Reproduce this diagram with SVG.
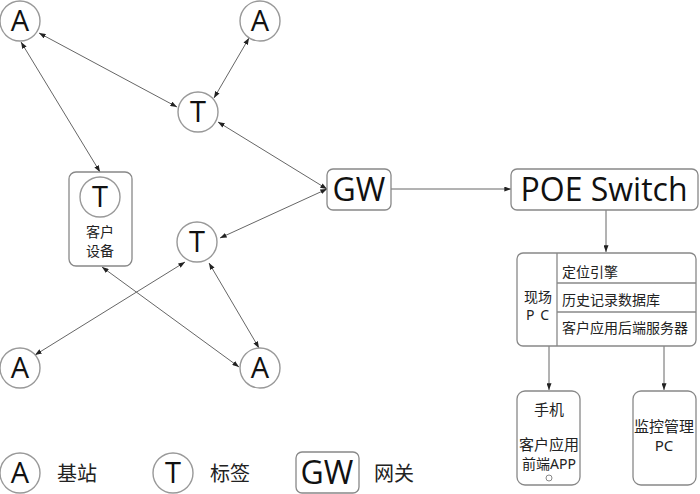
<svg xmlns="http://www.w3.org/2000/svg" width="700" height="494" viewBox="0 0 700 494">
<defs>
<marker id="ah" viewBox="0 0 8 6" refX="8" refY="3" markerWidth="7" markerHeight="5" markerUnits="userSpaceOnUse" orient="auto-start-reverse">
<path d="M0,0 L8,3 L0,6 z" fill="#222"/>
</marker>
</defs>
<style>
.c{fill:#fff;stroke:#999;stroke-width:1.4}
.b{fill:#fff;stroke:#888;stroke-width:1.3}
.l{stroke:#666;stroke-width:1;fill:none;marker-end:url(#ah)}
.l2{stroke:#666;stroke-width:1;fill:none;marker-start:url(#ah);marker-end:url(#ah)}
.big{font-family:"Open Sans","Noto Sans","Noto Sans CJK SC",sans-serif;font-size:29px;fill:#111;text-anchor:middle}
.gw{font-family:"Open Sans","Noto Sans","Noto Sans CJK SC",sans-serif;font-size:32px;fill:#111;text-anchor:middle}
.t{font-family:"Noto Sans","Noto Sans CJK SC",sans-serif;font-size:14px;fill:#222}
.tm{font-family:"Noto Sans","Noto Sans CJK SC",sans-serif;font-size:14px;fill:#222;text-anchor:middle}
.lg{font-family:"Noto Sans","Noto Sans CJK SC",sans-serif;font-size:20px;fill:#222}
</style>
<g id="connectors">
<line class="l2" x1="39" y1="33" x2="177" y2="107"/>
<line class="l2" x1="249" y1="38" x2="214" y2="98"/>
<line class="l2" x1="21" y1="42" x2="100" y2="172"/>
<line class="l2" x1="218" y1="122" x2="327" y2="189"/>
<line class="l2" x1="220" y1="238" x2="327" y2="189"/>
<line class="l2" x1="185" y1="262" x2="35" y2="355"/>
<line class="l2" x1="209" y1="263" x2="259" y2="348"/>
<line class="l2" x1="102" y1="267" x2="239" y2="367"/>
<line class="l" x1="391" y1="189" x2="511" y2="189"/>
<line class="l" x1="606" y1="210" x2="606" y2="252"/>
<line class="l" x1="549" y1="346" x2="549" y2="390"/>
<line class="l" x1="664" y1="346" x2="664" y2="390"/>
</g>
<g id="a1"><circle class="c" cx="20" cy="21" r="20"/><text class="big" x="20" y="31">A</text></g>
<g id="a2"><circle class="c" cx="260" cy="21" r="20"/><text class="big" x="260" y="31">A</text></g>
<g id="t1"><circle class="c" cx="198" cy="112" r="20"/><text class="big" x="198" y="122">T</text></g>
<g id="t2"><circle class="c" cx="197" cy="242" r="20"/><text class="big" x="197" y="252">T</text></g>
<g id="a3"><circle class="c" cx="20" cy="368" r="20"/><text class="big" x="20" y="378">A</text></g>
<g id="a4"><circle class="c" cx="260" cy="368" r="20"/><text class="big" x="260" y="378">A</text></g>
<g id="device">
<rect class="b" x="69" y="172" width="63" height="94" rx="7"/>
<circle class="c" cx="100" cy="197" r="20"/><text class="big" x="100" y="207">T</text>
<text class="tm" x="100" y="237">客户</text>
<text class="tm" x="100" y="256">设备</text>
</g>
<g id="gw"><rect class="b" x="327" y="169" width="64" height="41" rx="6"/><text class="gw" x="359" y="201">GW</text></g>
<g id="poe"><rect class="b" x="511" y="169" width="187" height="41" rx="6"/><text class="gw" x="604" y="201">POE Switch</text></g>
<g id="pc">
<rect class="b" x="517" y="253" width="179" height="93" rx="6"/>
<line x1="557" y1="253" x2="557" y2="346" stroke="#888" stroke-width="1.3"/>
<line x1="557" y1="283" x2="696" y2="283" stroke="#888" stroke-width="1.3"/>
<line x1="557" y1="312" x2="696" y2="312" stroke="#888" stroke-width="1.3"/>
<text class="tm" x="538" y="302">现场</text>
<text class="tm" x="538" y="320" style="letter-spacing:1px">P C</text>
<text class="t" x="562" y="277">定位引擎</text>
<text class="t" x="562" y="305">历史记录数据库</text>
<text class="t" x="562" y="333">客户应用后端服务器</text>
</g>
<g id="phone">
<rect class="b" x="517" y="391" width="63" height="94" rx="8"/>
<text class="tm" x="549" y="415" style="font-size:15px">手机</text>
<text class="tm" x="549" y="450" style="font-size:15px">客户应用</text>
<text class="tm" x="549" y="469" style="font-size:14px">前端APP</text>
<circle cx="549" cy="478" r="3" fill="none" stroke="#888" stroke-width="1"/>
</g>
<g id="monitor">
<rect class="b" x="633" y="391" width="63" height="94" rx="8"/>
<text class="tm" x="664" y="432" style="font-size:15px">监控管理</text>
<text class="tm" x="664" y="451" style="font-size:15px">PC</text>
</g>
<g id="legend">
<circle class="c" cx="20" cy="473" r="20"/><text class="big" x="20" y="483">A</text>
<text class="lg" x="57" y="481">基站</text>
<circle class="c" cx="173" cy="473" r="20"/><text class="big" x="173" y="483">T</text>
<text class="lg" x="210" y="481">标签</text>
<rect class="b" x="296" y="452" width="63" height="41" rx="6"/><text class="gw" x="327" y="484">GW</text>
<text class="lg" x="374" y="481">网关</text>
</g>
</svg>
